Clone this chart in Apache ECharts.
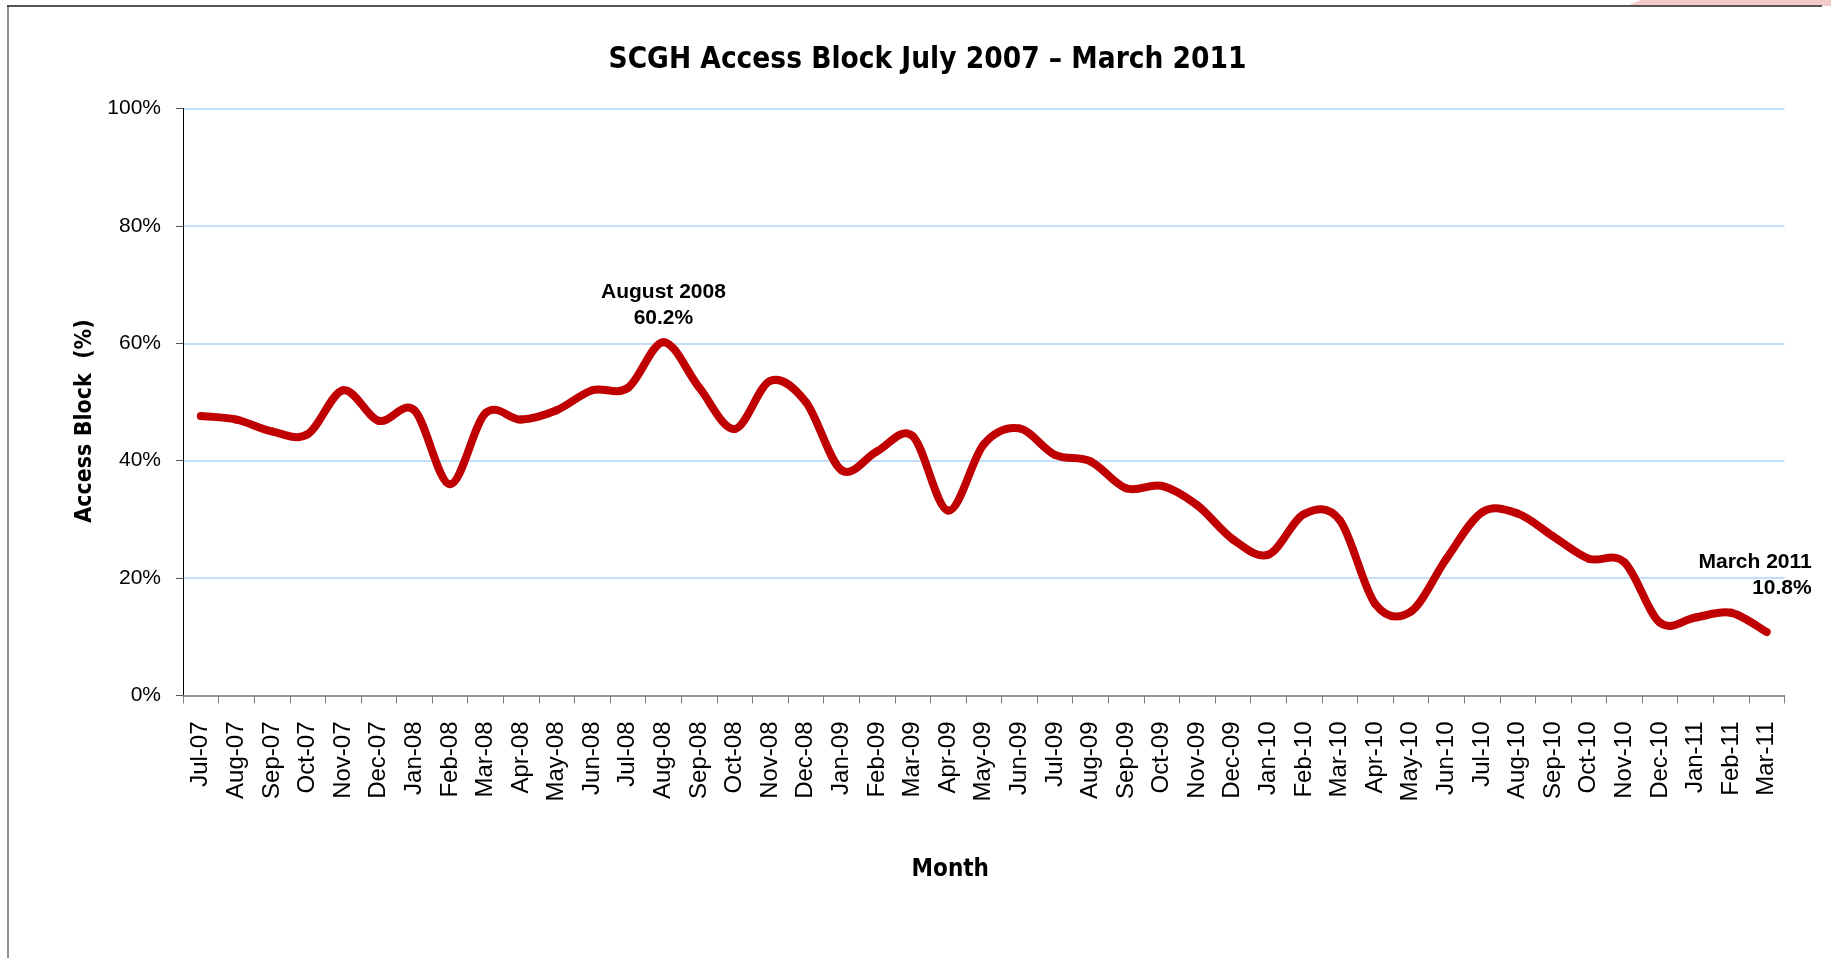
<!DOCTYPE html>
<html>
<head>
<meta charset="utf-8">
<script src="https://cdn.jsdelivr.net/npm/echarts@6/dist/echarts.min.js"></script>
<style>
html,body{margin:0;padding:0;background:#fff;}
#chart{width:1831px;height:958px;}
</style>
</head>
<body>
<div id="chart"></div>
<script>
const months = ['Jul-07','Aug-07','Sep-07','Oct-07','Nov-07','Dec-07','Jan-08','Feb-08','Mar-08','Apr-08','May-08','Jun-08',
  'Jul-08','Aug-08','Sep-08','Oct-08','Nov-08','Dec-08','Jan-09','Feb-09','Mar-09','Apr-09','May-09','Jun-09',
  'Jul-09','Aug-09','Sep-09','Oct-09','Nov-09','Dec-09','Jan-10','Feb-10','Mar-10','Apr-10','May-10','Jun-10',
  'Jul-10','Aug-10','Sep-10','Oct-10','Nov-10','Dec-10','Jan-11','Feb-11','Mar-11'];
const accessBlock = [47.6,47.0,45.0,44.5,52.0,46.8,48.6,36.0,48.1,47.0,48.6,52.0,
  52.4,60.2,52.5,45.4,53.6,50.0,38.4,41.6,44.2,31.5,42.8,45.5,
  41.0,39.9,35.3,35.7,32.4,26.6,24.0,30.9,29.9,15.6,14.3,23.3,
  31.2,31.0,27.1,23.3,22.7,12.4,13.3,14.1,10.8];
const annotatedMonths = ['Aug-08','Mar-11'];
const annotationTitles = ['August 2008','March 2011'];
const yTickValues = [0,20,40,60,80,100];

const condensed = '"DejaVu Sans Condensed","DejaVu Sans",sans-serif';
const arialLike = '"Liberation Sans",Arial,sans-serif';

const annLabelStyles = [
  {position:'top', distance:10, align:'center'},
  {position:'top', distance:30, align:'right', offset:[45,0]}
];

const annData = annotatedMonths.map((m,k)=>{
  const i = months.indexOf(m);
  return {
    value:[i, accessBlock[i]],
    label: Object.assign({
      show:true,
      formatter: annotationTitles[k] + '\n' + accessBlock[i].toFixed(1) + '%',
      fontFamily: arialLike, fontWeight:'bold', fontSize:21, lineHeight:26,
      color:'#000000', opacity:1, textBorderWidth:0
    }, annLabelStyles[k])
  };
});

// Excel-style (Catmull-Rom) smoothed line, one bezier segment per month, drawn through the axes
function renderSmoothSegment(params, api){
  const i = params.dataIndex;
  const n = accessBlock.length;
  if (i >= n - 1) return null;
  const P = k => {
    const j = Math.max(0, Math.min(n-1, k));
    return api.coord([j, accessBlock[j]]);
  };
  const p0 = P(i-1), p1 = P(i), p2 = P(i+1), p3 = P(i+2);
  const t = 1/6;
  return {
    type:'bezierCurve',
    shape:{
      x1:p1[0], y1:p1[1], x2:p2[0], y2:p2[1],
      cpx1:p1[0] + (p2[0]-p0[0])*t, cpy1:p1[1] + (p2[1]-p0[1])*t,
      cpx2:p2[0] - (p3[0]-p1[0])*t, cpy2:p2[1] - (p3[1]-p1[1])*t
    },
    style:{fill:null, stroke:'#C00000', lineWidth:8, lineCap:'round', lineJoin:'round'}
  };
}

const chart = echarts.init(document.getElementById('chart'), null, {renderer:'canvas'});
chart.setOption({
  animation:false,
  backgroundColor:'#fff',
  title:{
    text:'SCGH Access Block July 2007 \u2013 March 2011',
    left:922.5, top:40, textAlign:'center',
    textStyle:{fontFamily:condensed, fontWeight:'bold', fontSize:29.5, color:'#000'}
  },
  graphic:[
    {type:'polygon', shape:{points:[[1627,6],[1641,0],[1831,0],[1831,6]]}, style:{fill:'#F3CACA'}, silent:true},
    {type:'line', shape:{x1:7,y1:6,x2:1822,y2:6}, style:{stroke:'#555',lineWidth:2}, silent:true},
    {type:'line', shape:{x1:8,y1:6,x2:8,y2:958}, style:{stroke:'#222',lineWidth:1}, silent:true}
  ],
  grid:{left:183, right:46.5, top:108.5, bottom:262.5, outerBoundsMode:'none', containLabel:false},
  xAxis:{
    type:'category', data:months, boundaryGap:true,
    name:'Month', nameLocation:'middle', nameGap:162,
    nameTextStyle:{fontFamily:condensed, fontWeight:'bold', fontSize:24, color:'#000', padding:[0,67,0,0]},
    axisLine:{show:true, lineStyle:{color:'#808080', width:1.5}},
    axisTick:{show:true, length:8, alignWithLabel:false, interval:0, lineStyle:{color:'#808080'}},
    axisLabel:{interval:0, rotate:90, margin:26, fontFamily:arialLike, fontSize:24, color:'#000'},
    splitLine:{show:false}
  },
  yAxis:{
    type:'value', min:yTickValues[0], max:yTickValues[yTickValues.length-1], interval:20,
    name:'Access Block  (%)', nameLocation:'middle', nameRotate:90, nameGap:62,
    nameTextStyle:{fontFamily:condensed, fontWeight:'bold', fontSize:23, color:'#000', padding:[0,38,0,0]},
    axisLine:{show:true, lineStyle:{color:'#000', width:1}},
    axisTick:{show:true, length:7, lineStyle:{color:'#555'}},
    axisLabel:{formatter:'{value}%', margin:22, fontFamily:arialLike, fontSize:21, color:'#000'},
    splitLine:{show:true, lineStyle:{color:'#AFD4F5', width:1.5}}
  },
  series:[{
    type:'custom', name:'Access Block',
    data: accessBlock.map((v,i)=>[i, v]),
    encode:{x:0, y:1},
    renderItem: renderSmoothSegment,
    silent:true
  },{
    type:'scatter', name:'Annotations',
    data: annData,
    symbol:'circle', symbolSize:1,
    itemStyle:{color:'rgba(0,0,0,0)'},
    silent:true
  }]
});
</script>
</body>
</html>
